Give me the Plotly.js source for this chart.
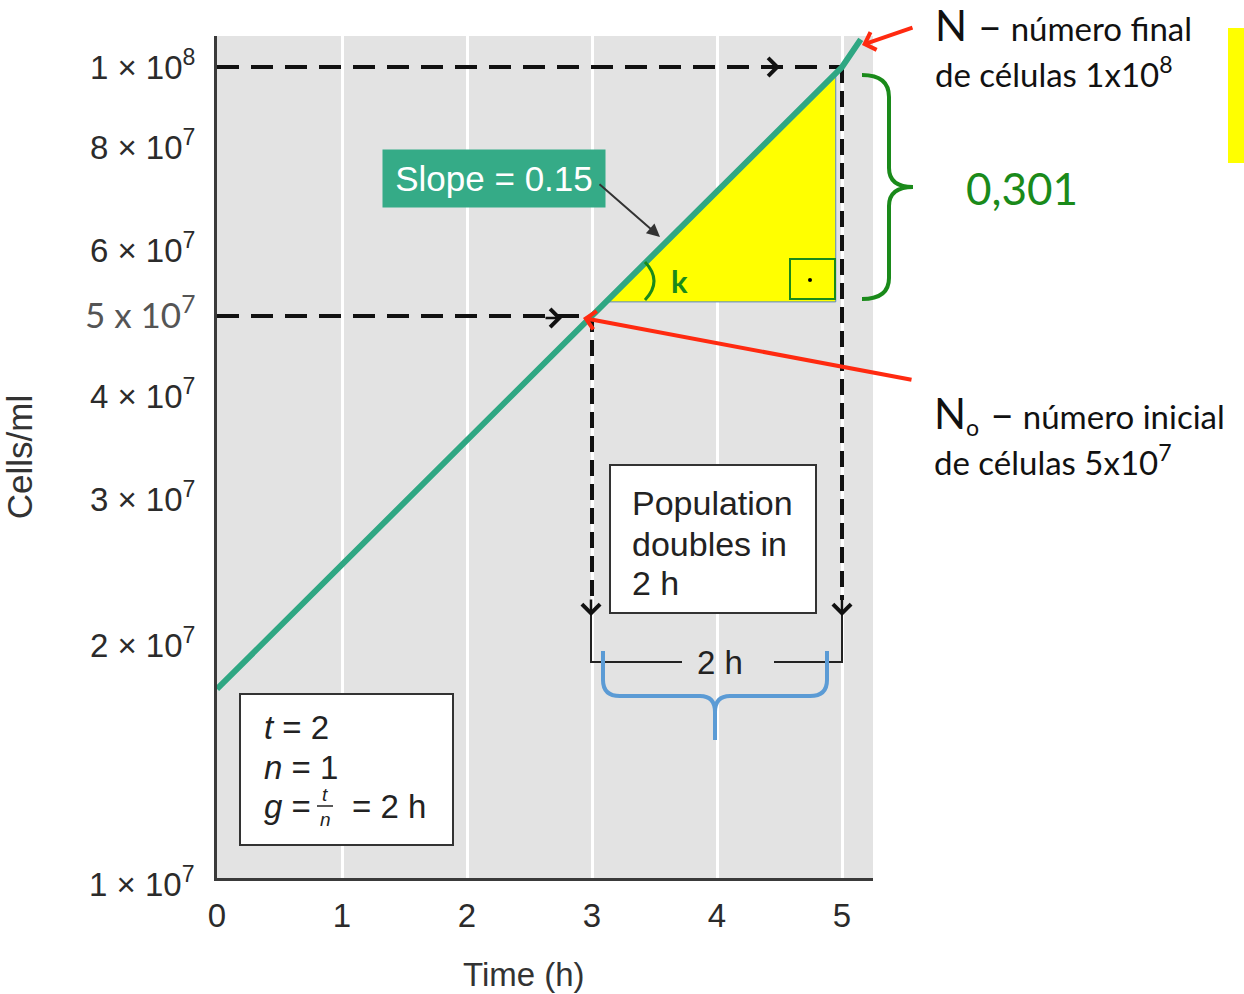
<!DOCTYPE html>
<html><head><meta charset="utf-8">
<script src="https://cdn.plot.ly/plotly-3.0.1.min.js"></script>
<style>html,body{margin:0;padding:0;background:#fff}#chart{width:1244px;height:994px}</style>
</head><body><div id="chart"></div>
<script>
// ---- data ----
const time = [0, 3, 5, 5.15];
const cells = [1.77e7, 5e7, 1e8, 1.08e8];
const refTime = [3, 5];          // t0, t
const refCells = [5e7, 1e8];     // N0, N
const triTime = [3.1, 4.95, 4.95, 3.1];
const triCells = [5.2e7, 9.85e7, 5.2e7, 5.2e7];
const gridCells = [2e7, 3e7, 4e7, 6e7, 8e7];
const yTickVals = [2e7, 3e7, 4e7, 5e7, 6e7, 8e7, 1e8];
const yTickText = ['2 × 10<sup>7</sup>', '3 × 10<sup>7</sup>', '4 × 10<sup>7</sup>',
  '<span style="font-family:Lato;color:#555555;font-size:35px">5 x 10<sup>7</sup></span>',
  '6 × 10<sup>7</sup>', '8 × 10<sup>7</sup>', '1 × 10<sup>8</sup>'];
const xTickVals = [0, 1, 2, 3, 4, 5];
const xTickText = ['0', '1', '2', '3', '4', '5'];

// ---- geometry ----
const W = 1244, H = 994, L = 217, R = 873, T = 36, B = 878;
const logBot = 7.0194, logTop = 8.0375, xMax = 5.248;
const px = p => (p - L) / (R - L);
const py = p => (B - p) / (B - T);
const P = (x, y) => px(x) + ',' + py(y);
const yv = p => Math.pow(10, logBot + (B - p) / (B - T) * (logTop - logBot));

const SANS = 'Liberation Sans, Arial, sans-serif';
const CAL = 'Lato, sans-serif';

const traces = [
  {x: triTime, y: triCells, mode: 'lines', fill: 'toself', fillcolor: '#ffff00',
   line: {color: '#5a86c4', width: 1}, hoverinfo: 'skip', showlegend: false},
  {x: [0, refTime[1]], y: [refCells[1], refCells[1]], mode: 'lines',
   line: {color: '#111', width: 4, dash: '22px,12px'}, showlegend: false, hoverinfo: 'skip'},
  {x: [0, refTime[0]], y: [refCells[0], refCells[0]], mode: 'lines',
   line: {color: '#111', width: 4, dash: '22px,12px'}, showlegend: false, hoverinfo: 'skip'},
  {x: [refTime[0], refTime[0]], y: [refCells[0], yv(600)], mode: 'lines',
   line: {color: '#111', width: 4, dash: '16px,8px'}, showlegend: false, hoverinfo: 'skip'},
  {x: [refTime[1], refTime[1]], y: [refCells[1], yv(600)], mode: 'lines',
   line: {color: '#111', width: 4, dash: '16px,8px'}, showlegend: false, hoverinfo: 'skip'},
  {x: time, y: cells, mode: 'lines', line: {color: '#2fa783', width: 6},
   showlegend: false, hoverinfo: 'skip'}
];

const shapes = [];
gridCells.forEach(v => shapes.push({type: 'line', xref: 'paper', yref: 'y', x0: 0, x1: 1,
  y0: Math.log10(v), y1: Math.log10(v), layer: 'below', line: {color: '#ffffff', width: 3}}));
// boxes
shapes.push({type: 'rect', xref: 'paper', yref: 'paper', x0: px(610), x1: px(816), y0: py(613), y1: py(465),
  fillcolor: '#ffffff', line: {color: '#333', width: 2}, layer: 'above'});
shapes.push({type: 'rect', xref: 'paper', yref: 'paper', x0: px(240), x1: px(453), y0: py(845), y1: py(694),
  fillcolor: '#ffffff', line: {color: '#333', width: 2}, layer: 'above'});
// black dimension bracket
shapes.push({type: 'path', xref: 'paper', yref: 'paper', layer: 'above',
  path: `M${P(591,612)} L${P(591,662)} L${P(682,662)} M${P(774,662)} L${P(842,662)} L${P(842,612)}`,
  line: {color: '#222', width: 2}});
// blue brace
shapes.push({type: 'path', xref: 'paper', yref: 'paper', layer: 'above',
  path: `M${P(603,651)} L${P(603,680)} Q${P(603,696)} ${P(620,696)} L${P(700,696)} Q${P(715,696)} ${P(715,712)} L${P(715,740)} M${P(715,712)} Q${P(715,696)} ${P(730,696)} L${P(810,696)} Q${P(827,696)} ${P(827,680)} L${P(827,651)}`,
  line: {color: '#5b9bd5', width: 4}});
// green brace
shapes.push({type: 'path', xref: 'paper', yref: 'paper', layer: 'above',
  path: `M${P(862,75)} Q${P(889,75)} ${P(889,97)} L${P(889,168)} Q${P(889,187)} ${P(913,187)} Q${P(889,187)} ${P(889,206)} L${P(889,278)} Q${P(889,299)} ${P(862,299)}`,
  line: {color: '#1a8a1a', width: 4}});
// angle arc
shapes.push({type: 'path', xref: 'paper', yref: 'paper', layer: 'above',
  path: `M${P(645,262)} Q${P(663,281)} ${P(645,300)}`, line: {color: '#1a8a1a', width: 3}});
// right-angle square and dot
shapes.push({type: 'rect', xref: 'paper', yref: 'paper', x0: px(790), x1: px(835), y0: py(299), y1: py(259),
  line: {color: '#1a8a1a', width: 2}, layer: 'above'});
shapes.push({type: 'circle', xref: 'paper', yref: 'paper', x0: px(808), x1: px(812), y0: py(282), y1: py(278),
  fillcolor: '#000', line: {width: 0}, layer: 'above'});
// yellow sidebar
shapes.push({type: 'rect', xref: 'paper', yref: 'paper', x0: px(1228), x1: px(1245), y0: py(163), y1: py(28),
  fillcolor: '#ffff00', line: {width: 0}, layer: 'above'});
// fraction bar
shapes.push({type: 'line', xref: 'paper', yref: 'paper', x0: px(317), x1: px(333), y0: py(806), y1: py(806),
  line: {color: '#222', width: 1.5}, layer: 'above'});

const ann = [];
const txt = (x, y, text, size, color, family, xanchor, opts) => ann.push(Object.assign({
  xref: 'paper', yref: 'paper', x: px(x), y: py(y), text: text, showarrow: false,
  xanchor: xanchor || 'center', yanchor: 'middle',
  font: {size: size, color: color, family: family || SANS}}, opts || {}));
const arr = (x, y, ax, ay, color, width, head, size) => ann.push({
  xref: 'paper', yref: 'paper', x: px(x), y: py(y), ax: ax, ay: ay, text: '', showarrow: true,
  arrowcolor: color, arrowwidth: width, arrowhead: head, arrowsize: size || 1});

txt(197, 882, '1 × 10<sup>7</sup>', 33, '#2b2b2b', SANS, 'right');
txt(524, 974, 'Time (h)', 33, '#333', SANS, 'center');
txt(494, 178, 'Slope = 0.15', 35, '#ffffff', SANS, 'center', {bgcolor: '#35ab87', width: 210, height: 45, borderpad: 6});
arr(660, 237, -62, -54, '#333', 2, 2, 1.3);
// dashed-line arrowheads
arr(780, 67, -18, 0, '#111', 2.5, 4, 1.4);
arr(562, 318, -18, 0, '#111', 2.5, 4, 1.4);
arr(591, 616, 0, -18, '#111', 2.5, 4, 1.4);
arr(842, 616, 0, -18, '#111', 2.5, 4, 1.4);
// red arrows
arr(862, 45, 52, -18, '#ff2a10', 4, 4, 0.9);
arr(583, 318, 330, 62, '#ff2a10', 4, 4, 0.9);

txt(630, 503, 'Population', 34, '#222', SANS, 'left');
txt(630, 544, 'doubles in', 34, '#222', SANS, 'left');
txt(630, 583, '2 h', 34, '#222', SANS, 'left');
txt(720, 662, '2 h', 33, '#222');
txt(679, 281, '<b>k</b>', 31, '#1a8a1a', CAL);

// formula box
txt(262, 727, '<i>t</i> = 2', 33, '#222', SANS, 'left');
txt(262, 767, '<i>n</i> = 1', 33, '#222', SANS, 'left');
txt(262, 806, '<i>g</i> =', 33, '#222', SANS, 'left');
txt(325, 794, '<i>t</i>', 19, '#222');
txt(325, 819, '<i>n</i>', 19, '#222');
txt(350, 806, '= 2 h', 33, '#222', SANS, 'left');

// right-hand notes
txt(933, 25, '<span style="font-size:42px">N –</span> número final', 33, '#111', CAL, 'left');
txt(933, 72, 'de células 1x10<sup>8</sup>', 33, '#111', CAL, 'left');
txt(1022, 188, '0,301', 44, '#1a8a1a', CAL, 'center');
txt(932, 414, '<span style="font-size:42px">N</span><sub>o</sub><span style="font-size:42px"> –</span> número inicial', 33, '#111', CAL, 'left');
txt(932, 460, 'de células 5x10<sup>7</sup>', 33, '#111', CAL, 'left');

const layout = {
  width: W, height: H,
  margin: {l: L, r: W - R, t: T, b: H - B, pad: 0},
  paper_bgcolor: '#ffffff', plot_bgcolor: '#e3e3e3',
  showlegend: false,
  font: {family: SANS, color: '#2b2b2b'},
  xaxis: {range: [0, xMax], tickvals: xTickVals, ticktext: xTickText, showgrid: true,
    gridcolor: '#ffffff', gridwidth: 3, zeroline: false, showline: true, linecolor: '#3a3a3a',
    linewidth: 3, ticks: '', ticklabelstandoff: 6, tickfont: {size: 33, color: '#2b2b2b'},
    automargin: false, fixedrange: true},
  yaxis: {type: 'log', range: [logBot, logTop], tickvals: yTickVals, ticktext: yTickText,
    showgrid: false, zeroline: false, showline: true, linecolor: '#3a3a3a', linewidth: 3,
    ticks: '', ticklabelstandoff: 12, tickfont: {size: 33, color: '#2b2b2b'},
    title: {text: 'Cells/ml', font: {size: 35, color: '#333'}, standoff: 42}, automargin: false,
    fixedrange: true},
  shapes: shapes, annotations: ann
};
Plotly.newPlot('chart', traces, layout, {displayModeBar: false, staticPlot: true});
</script></body></html>
